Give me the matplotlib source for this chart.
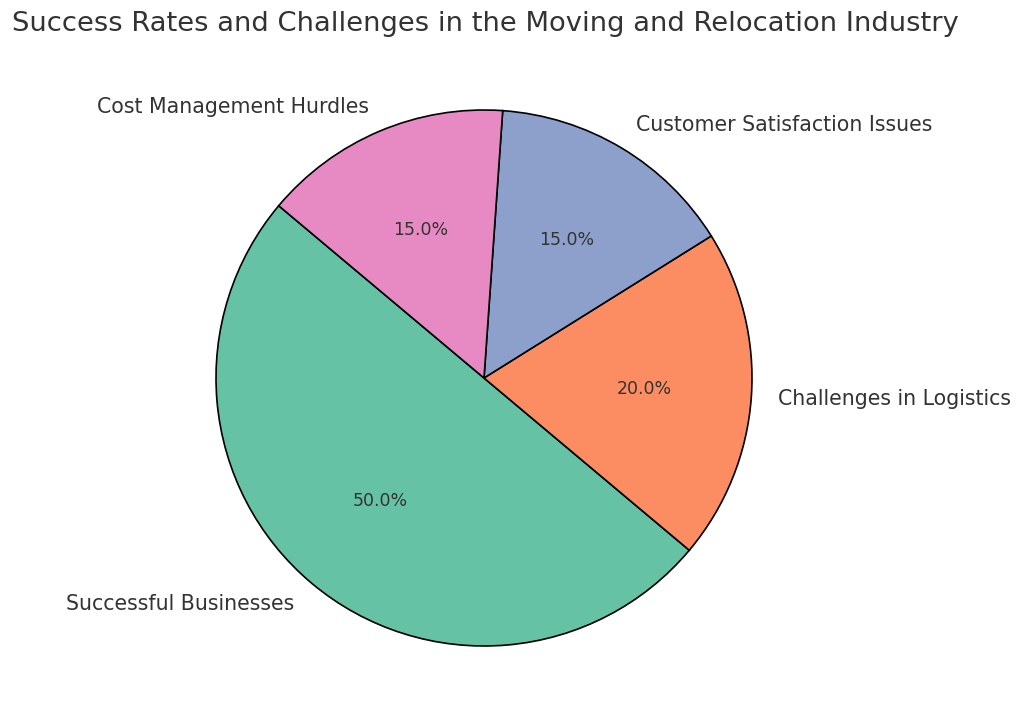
import matplotlib.pyplot as plt

labels = ['Successful Businesses', 'Challenges in Logistics',
          'Customer Satisfaction Issues', 'Cost Management Hurdles']
sizes = [50, 20, 15, 15]
colors = ['#66c2a5', '#fc8d62', '#8da0cb', '#e78ac3']

plt.rcParams['text.color'] = '#333333'

fig = plt.figure(figsize=(10.24, 7.26), dpi=100)
ax = fig.add_axes([(484 - 268) / 1024, (726 - 378 - 268) / 726, 536 / 1024, 536 / 726])

wedges, texts, autotexts = ax.pie(
    sizes, labels=labels, colors=colors, autopct='%1.1f%%', startangle=140,
    wedgeprops={'edgecolor': 'black', 'linewidth': 1.2},
    textprops={'fontsize': 14.8, 'color': '#333333'})
for t in autotexts:
    t.set_fontsize(12.5)
ax.set_aspect('equal')
ax.set_xlim(-1, 1)
ax.set_ylim(-1, 1)

fig.text(12 / 1024, 1 - 24 / 726, 'Success Rates and Challenges in the Moving and Relocation Industry',
         fontsize=19.7, ha='left', va='center', color='#333333')

fig.savefig('out.png', dpi=100)
